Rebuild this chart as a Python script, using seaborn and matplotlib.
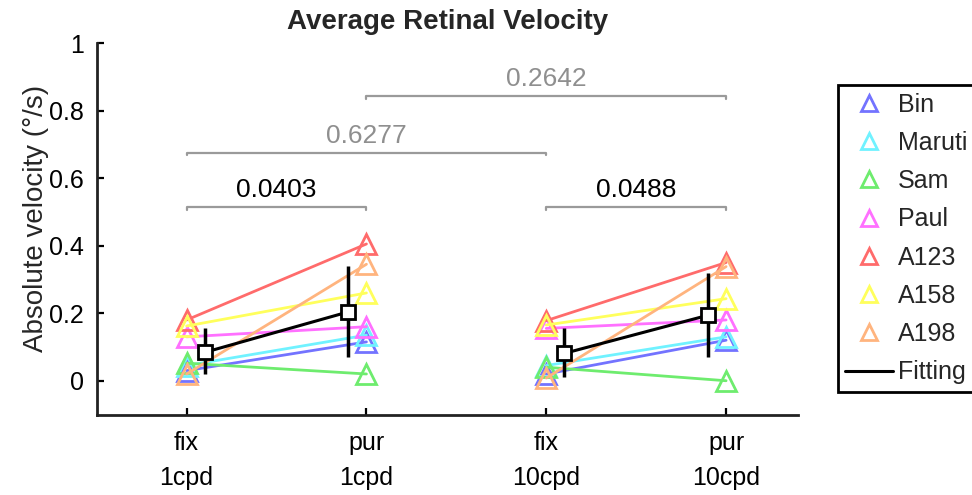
import numpy as np
import pandas as pd
import matplotlib
matplotlib.use("Agg")
import matplotlib.pyplot as plt
from matplotlib.lines import Line2D
import seaborn as sns

# ---- data ----
conditions = ["fix\n1cpd", "pur\n1cpd", "fix\n10cpd", "pur\n10cpd"]
subjects = ["Bin", "Maruti", "Sam", "Paul", "A123", "A158", "A198"]
colors = ["#7373ff", "#70f2ff", "#6eec6e", "#ff70ff", "#ff6b6b", "#ffff5c", "#ffb47e"]

bin_v    = [0.030, 0.115, 0.020, 0.120]
maruti_v = [0.045, 0.135, 0.045, 0.130]
sam_v    = [0.052, 0.020, 0.040, 0.000]
paul_v   = [0.130, 0.160, 0.155, 0.180]
a123_v   = [0.180, 0.405, 0.178, 0.350]
a158_v   = [0.162, 0.260, 0.165, 0.243]
a198_v   = [0.020, 0.345, 0.008, 0.338]
subject_values = [bin_v, maruti_v, sam_v, paul_v, a123_v, a158_v, a198_v]

fit_mean  = [0.084, 0.204, 0.081, 0.194]
fit_lower = [0.019, 0.071, 0.012, 0.071]
fit_upper = [0.155, 0.339, 0.155, 0.319]

# significance brackets
brk_from = [0, 2, 0, 1]
brk_to   = [1, 3, 2, 3]
brk_y    = [0.513, 0.513, 0.675, 0.843]
brk_text = ["0.0403", "0.0488", "0.6277", "0.2642"]
brk_sig  = [True, True, False, False]

# ---- style ----
sns.set_style("ticks")
plt.rcParams["font.family"] = ["Liberation Sans", "DejaVu Sans"]

fig = plt.figure(figsize=(9.72, 4.95), dpi=100)
ax = fig.add_axes([0.0995, 0.1626, 0.7215, 0.7505])

xpos = np.arange(1, len(conditions) + 1)

rows = []
for s, vals in zip(subjects, subject_values):
    for i, v in enumerate(vals):
        rows.append({"subject": s, "x": xpos[i], "v": v, "pair": i // 2})
df = pd.DataFrame(rows)

for s, c in zip(subjects, colors):
    sub = df[df.subject == s]
    for p in sorted(sub.pair.unique()):
        d = sub[sub.pair == p]
        sns.lineplot(data=d, x="x", y="v", ax=ax, color=c, lw=2.0,
                     marker="^", markersize=14, mfc="none", mec=c, mew=2.0,
                     estimator=None, sort=False, legend=False)

# fitting: mean with error bars, slightly offset inside each pair
fit_x = xpos + np.array([0.1, -0.1, 0.1, -0.1])
mean = np.array(fit_mean)
yerr = np.vstack([mean - np.array(fit_lower), np.array(fit_upper) - mean])
for p in range(2):
    sl = slice(2 * p, 2 * p + 2)
    ax.errorbar(fit_x[sl], mean[sl], yerr=yerr[:, sl], fmt="-s", color="black",
                lw=2.2, elinewidth=2.5, capsize=0, markersize=10,
                mfc="white", mec="black", mew=2.0, zorder=5)

# brackets
for a, b, y, t, sig in zip(brk_from, brk_to, brk_y, brk_text, brk_sig):
    x0, x1 = xpos[a], xpos[b]
    ax.plot([x0, x0, x1, x1], [y - 0.008, y, y, y - 0.008], color="#9a9a9a", lw=1.6)
    ax.text((x0 + x1) / 2, y + 0.015, t, ha="center", va="bottom", fontsize=19,
            color="black" if sig else "#8f8f8f")

ax.set_xlim(0.5, 4.4)
ax.set_ylim(-0.1, 1.0)
ax.set_xticks(xpos)
ax.set_xticklabels(conditions, linespacing=1.55)
ax.set_yticks([0, 0.2, 0.4, 0.6, 0.8, 1.0])
ax.set_yticklabels(["0", "0.2", "0.4", "0.6", "0.8", "1"])
ax.tick_params(axis="both", direction="in", length=5, width=1.6, labelsize=18,
               colors="black")
ax.tick_params(axis="x", pad=12)
ax.tick_params(axis="y", pad=9)
sns.despine(ax=ax)
for sp in ["left", "bottom"]:
    ax.spines[sp].set_linewidth(2.0)
    ax.spines[sp].set_color("#222222")

ax.set_xlabel("")
ax.set_ylabel("Absolute velocity (°/s)", fontsize=20)
ax.yaxis.set_label_coords(-0.068, 0.529)
ax.set_title("Average Retinal Velocity", fontsize=20, fontweight="bold", pad=10)

handles = [Line2D([], [], ls="none", marker="^", markersize=12, mfc="none", mec=c, mew=2.0)
           for c in colors]
handles.append(Line2D([], [], color="black", lw=2.2))
leg = fig.legend(handles, subjects + ["Fitting"], loc="upper left",
                 bbox_to_anchor=(0.862, 0.828), borderaxespad=0, fontsize=18,
                 frameon=True, fancybox=False, edgecolor="black", framealpha=1,
                 labelspacing=0.57, handlelength=1.9, handletextpad=0.2,
                 borderpad=0.3)
leg.get_frame().set_linewidth(2.0)

fig.savefig("out.png", dpi=100)
